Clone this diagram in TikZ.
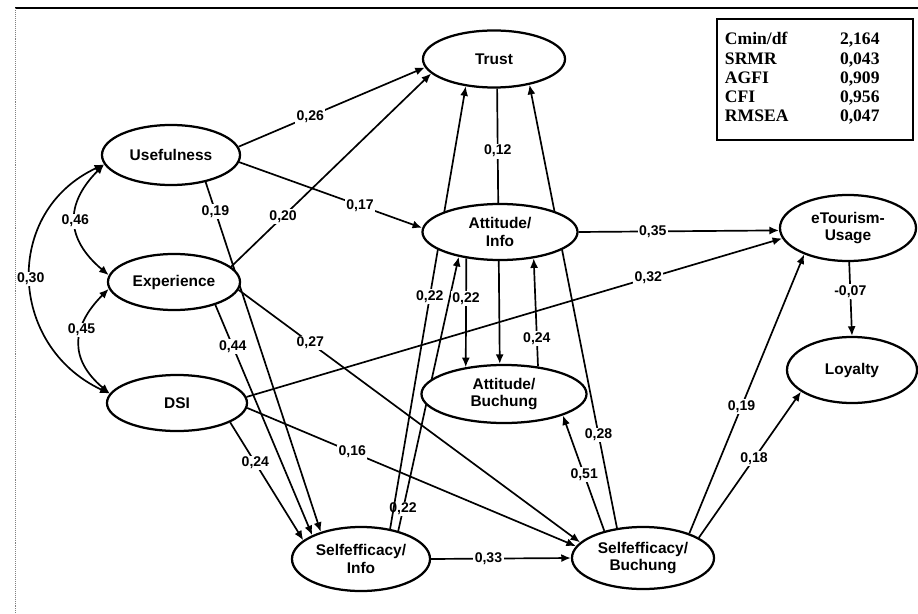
\documentclass[tikz,border=0pt]{standalone}
\usepackage{fontspec}
\setmainfont{Liberation Serif}
\setsansfont{Liberation Sans}
\usetikzlibrary{shapes.geometric,arrows.meta,backgrounds}

\begin{document}
\begin{tikzpicture}[x=0.025cm, y=0.025cm,
  latent/.style={ellipse, draw, line width=1.6pt, fill=white, inner sep=0pt, align=center,
    font=\sffamily\bfseries\fontsize{11}{12.5}\selectfont},
  coef/.style={fill=white, inner sep=1pt, font=\sffamily\bfseries\fontsize{10}{11}\selectfont},
  arr/.style={-{Latex[length=2.4mm, width=2mm]}, line width=1.2pt},
  corr/.style={{Latex[length=2.4mm, width=2mm]}-{Latex[length=2.4mm, width=2mm]}, line width=1.2pt, looseness=1.3},
  fitbox/.style={draw, line width=1pt, fill=white, minimum width=4.9cm, minimum height=3.025cm,
    text width=4.5cm, inner xsep=0.2cm, align=left, font=\rmfamily\bfseries\fontsize{12.5}{13.7}\selectfont}
]
  \useasboundingbox (0,0) rectangle (918,613);

  % frame of the scan
  \draw[line width=0.8pt] (15,605) -- (918,605);
  \draw[gray, densely dotted] (15,605) -- (15,0);

  \node[latent, minimum width=3.55cm, minimum height=1.425cm] (trust) at (494,554) {Trust};
  \node[latent, minimum width=3.45cm, minimum height=1.5cm] (useful) at (171,458) {Usefulness};
  \node[latent, minimum width=3.3cm, minimum height=1.4cm] (exper) at (174,331) {Experience};
  \node[latent, minimum width=3.5cm, minimum height=1.4cm] (dsi) at (177,210) {DSI};
  \node[latent, minimum width=3.875cm, minimum height=1.4cm] (attinfo) at (500,381) {Attitude/\\Info};
  \node[latent, minimum width=4.125cm, minimum height=1.45cm] (attbuch) at (504,219) {Attitude/\\Buchung};
  \node[latent, minimum width=3.45cm, minimum height=1.6cm] (seinfo) at (361,54) {Selfefficacy/\\Info};
  \node[latent, minimum width=3.55cm, minimum height=1.55cm] (sebuch) at (643,55) {Selfefficacy/\\Buchung};
  \node[latent, minimum width=3.4cm, minimum height=1.65cm] (etour) at (848,385) {eTourism-\\Usage};
  \node[latent, minimum width=3.25cm, minimum height=1.65cm] (loyal) at (852,243) {Loyalty};

  \node[fitbox] (gof) at (815,533.5) {%
    \begin{tabular}{@{}p{2.875cm}@{}l@{}}
      Cmin/df & 2,164\\
      SRMR & 0,043\\
      AGFI & 0,909\\
      CFI & 0,956\\
      RMSEA & 0,047
    \end{tabular}};

  \begin{scope}[on background layer]
    % correlations
    \draw[corr] (useful.188) to[out=225, in=140] node[coef]{0,46} (exper.174);
    \draw[corr] (exper.186) to[out=225, in=140] node[coef, pos=.38]{0,45} (dsi.172);
    \draw[corr, looseness=1.25] (useful.188) to[out=205, in=155] node[coef]{0,30} (dsi.172);

    % paths
    \draw[arr] (useful.7) -- node[coef, pos=.385]{0,26} (trust.187);
    \draw[arr] (exper.15) -- node[coef, pos=.26]{0,20} (trust.193);
    \draw[arr] (useful.354) -- node[coef, pos=.66]{0,17} (attinfo.177);
    \draw[arr] (useful.322) -- node[coef, pos=.085]{0,19} (seinfo.146);
    \draw[arr] (exper.331) -- node[coef, pos=.18]{0,44} (seinfo.154);
    \draw[arr] (exper.353) -- node[coef, pos=.21]{0,27} (sebuch.166);
    \draw[arr] (dsi.5) -- node[coef, pos=.75]{0,32} (etour.189);
    \draw[arr] (dsi.340) -- node[coef, pos=.345]{0,24} (seinfo.162);
    \draw[arr] (dsi.356) -- node[coef, pos=.32]{0,16} (sebuch.170);
    \draw[arr] (seinfo.0) -- node[coef, pos=.41]{0,33} (sebuch.180);
    \draw[arr] (seinfo.37) -- node[coef, pos=.08]{0,22} (attinfo.211);
    \draw[arr] (seinfo.46) -- node[coef, pos=.525]{0,22} (trust.224);
    \draw[arr] (trust.276) -- node[coef, pos=.227]{0,12} (attbuch.98);
    \draw[arr] (attinfo.218) -- node[coef, pos=.37]{0,22} (attbuch.145);
    \draw[arr] (attbuch.39) -- node[coef, pos=.26]{0,24} (attinfo.322);
    \draw[arr] (sebuch.145) -- node[coef, pos=.485]{0,51} (attbuch.340);
    \draw[arr] (sebuch.131) -- node[coef, pos=.21]{0,28} (trust.324);
    \draw[arr] (sebuch.28) -- node[coef, pos=.455]{0,19} (etour.211);
    \draw[arr] (sebuch.20) -- node[coef, pos=.54]{0,18} (loyal.203);
    \draw[arr] (etour.272) -- node[coef, pos=.4]{-0,07} (loyal.90);
    \draw[arr] (attinfo.0) -- node[coef, pos=.37]{0,35} (etour.182);
  \end{scope}
\end{tikzpicture}
\end{document}
